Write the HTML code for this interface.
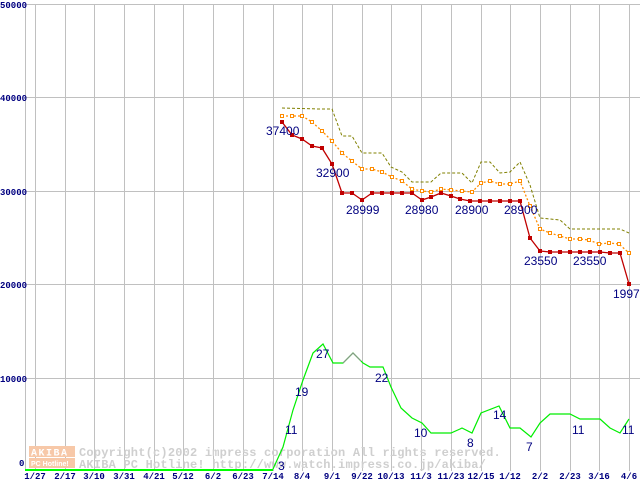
<!DOCTYPE html>
<html><head><meta charset="utf-8"><style>
html,body{margin:0;padding:0;background:#fff;}
svg{display:block;}
.yl{font:bold 9px "Liberation Mono",monospace;fill:#000080;}
.xl{font:bold 9px "Liberation Mono",monospace;fill:#000080;}
.dl{font:12px "Liberation Sans",sans-serif;fill:#000080;}
.wm{font:bold 12px "Liberation Mono",monospace;fill:#cfcfcf;letter-spacing:0.2px;}
</style></head><body>
<svg width="640" height="480" viewBox="0 0 640 480" xmlns="http://www.w3.org/2000/svg">
<rect width="640" height="480" fill="#fff"/>
<g stroke="#c0c0c0" stroke-width="1">
<line x1="25" y1="4.5" x2="640" y2="4.5"/>
<line x1="25" y1="97.5" x2="640" y2="97.5"/>
<line x1="25" y1="191.5" x2="640" y2="191.5"/>
<line x1="25" y1="284.5" x2="640" y2="284.5"/>
<line x1="25" y1="378.5" x2="640" y2="378.5"/>
<line x1="25.5" y1="4" x2="25.5" y2="471"/>
<line x1="35.5" y1="4" x2="35.5" y2="471"/><line x1="65.5" y1="4" x2="65.5" y2="471"/><line x1="94.5" y1="4" x2="94.5" y2="471"/><line x1="124.5" y1="4" x2="124.5" y2="471"/><line x1="154.5" y1="4" x2="154.5" y2="471"/><line x1="183.5" y1="4" x2="183.5" y2="471"/><line x1="213.5" y1="4" x2="213.5" y2="471"/><line x1="243.5" y1="4" x2="243.5" y2="471"/><line x1="273.5" y1="4" x2="273.5" y2="471"/><line x1="302.5" y1="4" x2="302.5" y2="471"/><line x1="332.5" y1="4" x2="332.5" y2="471"/><line x1="362.5" y1="4" x2="362.5" y2="471"/><line x1="391.5" y1="4" x2="391.5" y2="471"/><line x1="421.5" y1="4" x2="421.5" y2="471"/><line x1="451.5" y1="4" x2="451.5" y2="471"/><line x1="481.5" y1="4" x2="481.5" y2="471"/><line x1="510.5" y1="4" x2="510.5" y2="471"/><line x1="540.5" y1="4" x2="540.5" y2="471"/><line x1="570.5" y1="4" x2="570.5" y2="471"/><line x1="599.5" y1="4" x2="599.5" y2="471"/><line x1="629.5" y1="4" x2="629.5" y2="471"/>
</g>
<g class="yl">
<text x="0" y="8">50000</text><text x="0" y="101">40000</text><text x="0" y="195">30000</text><text x="0" y="288">20000</text><text x="0" y="382">10000</text><text x="19" y="466">0</text>
</g>
<g class="xl" text-anchor="middle">
<text x="35" y="479">1/27</text><text x="65" y="479">2/17</text><text x="94" y="479">3/10</text><text x="124" y="479">3/31</text><text x="154" y="479">4/21</text><text x="183" y="479">5/12</text><text x="213" y="479">6/2</text><text x="243" y="479">6/23</text><text x="273" y="479">7/14</text><text x="302" y="479">8/4</text><text x="332" y="479">9/1</text><text x="362" y="479">9/22</text><text x="391" y="479">10/13</text><text x="421" y="479">11/3</text><text x="451" y="479">11/23</text><text x="481" y="479">12/15</text><text x="510" y="479">1/12</text><text x="540" y="479">2/2</text><text x="570" y="479">2/23</text><text x="599" y="479">3/16</text><text x="629" y="479">4/6</text>
</g>
<!-- watermark -->
<rect x="29" y="446" width="46" height="11" fill="#f7c8a8"/>
<rect x="29" y="458" width="46" height="10" fill="#f7c8a8"/>
<text x="31" y="455.5" style="font:bold 10px 'Liberation Mono',monospace;fill:#fff;letter-spacing:1.5px">AKIBA</text>
<text x="31" y="466" style="font:bold 7px 'Liberation Sans',sans-serif;fill:#fff">PC Hotline!</text>
<text class="wm" x="79" y="456">Copyright(c)2002 impress corporation All rights reserved.</text>
<text class="wm" x="79" y="468">AKIBA PC Hotline!  http://www.watch.impress.co.jp/akiba/</text>
<!-- olive dashed -->
<polyline fill="none" stroke="#808000" stroke-width="1" stroke-dasharray="3,2" points="282,108 319,109 332,109 342,136 352,136 362,153 382,153 391,167 402,172 412,182 431,182 441,173 462,173 472,183 481,162 490,162 500,173 510,172 520,162 530,185 540,218 560,220 570,229 620,229 629,233"/>
<!-- orange dotted -->
<polyline fill="none" stroke="#ff8c00" stroke-width="1.3" stroke-dasharray="2,2" points="282,116 292,116 302,116 312,122 322,131 332,141 342,153 352,161 362,169 372,169 382,172 392,177 402,181 412,189 422,191 431,192 441,189 451,190 462,191 472,192 481,183 490,181 500,184 510,184 520,181 530,206 540,229 550,233 560,236 570,239 580,239 589,240 599,244 609,243 619,244 629,253"/>
<g fill="#fff" stroke="#ff8c00" stroke-width="1">
<rect x="280.5" y="114.5" width="3" height="3"/><rect x="290.5" y="114.5" width="3" height="3"/><rect x="300.5" y="114.5" width="3" height="3"/><rect x="310.5" y="120.5" width="3" height="3"/><rect x="320.5" y="129.5" width="3" height="3"/><rect x="330.5" y="139.5" width="3" height="3"/><rect x="340.5" y="151.5" width="3" height="3"/><rect x="350.5" y="159.5" width="3" height="3"/><rect x="360.5" y="167.5" width="3" height="3"/><rect x="370.5" y="167.5" width="3" height="3"/><rect x="380.5" y="170.5" width="3" height="3"/><rect x="390.5" y="175.5" width="3" height="3"/><rect x="400.5" y="179.5" width="3" height="3"/><rect x="410.5" y="187.5" width="3" height="3"/><rect x="420.5" y="189.5" width="3" height="3"/><rect x="429.5" y="190.5" width="3" height="3"/><rect x="439.5" y="187.5" width="3" height="3"/><rect x="449.5" y="188.5" width="3" height="3"/><rect x="460.5" y="189.5" width="3" height="3"/><rect x="470.5" y="190.5" width="3" height="3"/><rect x="479.5" y="181.5" width="3" height="3"/><rect x="488.5" y="179.5" width="3" height="3"/><rect x="498.5" y="182.5" width="3" height="3"/><rect x="508.5" y="182.5" width="3" height="3"/><rect x="518.5" y="179.5" width="3" height="3"/><rect x="528.5" y="204.5" width="3" height="3"/><rect x="538.5" y="227.5" width="3" height="3"/><rect x="548.5" y="231.5" width="3" height="3"/><rect x="558.5" y="234.5" width="3" height="3"/><rect x="568.5" y="237.5" width="3" height="3"/><rect x="578.5" y="237.5" width="3" height="3"/><rect x="587.5" y="238.5" width="3" height="3"/><rect x="597.5" y="242.5" width="3" height="3"/><rect x="607.5" y="241.5" width="3" height="3"/><rect x="617.5" y="242.5" width="3" height="3"/><rect x="627.5" y="251.5" width="3" height="3"/>
</g>
<!-- red -->
<polyline fill="none" stroke="#c00000" stroke-width="1.3" points="282,122 292,135 302,139 312,146 322,148 332,164 342,193 352,193 362,200 372,193 382,193 392,193 402,193 412,193 422,200 431,197 441,193 451,196 460,199 470,201 480,201 490,201 500,201 510,201 520,201 530,238 540,251 550,252 560,252 570,252 580,252 590,252 600,252 610,253 620,253 629,284"/>
<g fill="#c00000">
<rect x="280" y="120" width="4" height="4"/><rect x="290" y="133" width="4" height="4"/><rect x="300" y="137" width="4" height="4"/><rect x="310" y="144" width="4" height="4"/><rect x="320" y="146" width="4" height="4"/><rect x="330" y="162" width="4" height="4"/><rect x="340" y="191" width="4" height="4"/><rect x="350" y="191" width="4" height="4"/><rect x="360" y="198" width="4" height="4"/><rect x="370" y="191" width="4" height="4"/><rect x="380" y="191" width="4" height="4"/><rect x="390" y="191" width="4" height="4"/><rect x="400" y="191" width="4" height="4"/><rect x="410" y="191" width="4" height="4"/><rect x="420" y="198" width="4" height="4"/><rect x="429" y="195" width="4" height="4"/><rect x="439" y="191" width="4" height="4"/><rect x="449" y="194" width="4" height="4"/><rect x="458" y="197" width="4" height="4"/><rect x="468" y="199" width="4" height="4"/><rect x="478" y="199" width="4" height="4"/><rect x="488" y="199" width="4" height="4"/><rect x="498" y="199" width="4" height="4"/><rect x="508" y="199" width="4" height="4"/><rect x="518" y="199" width="4" height="4"/><rect x="528" y="236" width="4" height="4"/><rect x="538" y="249" width="4" height="4"/><rect x="548" y="250" width="4" height="4"/><rect x="558" y="250" width="4" height="4"/><rect x="568" y="250" width="4" height="4"/><rect x="578" y="250" width="4" height="4"/><rect x="588" y="250" width="4" height="4"/><rect x="598" y="250" width="4" height="4"/><rect x="608" y="251" width="4" height="4"/><rect x="618" y="251" width="4" height="4"/><rect x="627" y="282" width="4" height="4"/>
</g>
<!-- green -->
<line x1="25" y1="470" x2="273" y2="470" stroke="#00ff00" stroke-width="2"/>
<polyline fill="none" stroke="#00ee00" stroke-width="1.2" points="273,469 283,447 293,410 303,380 313,353 323,344 333,363 343,363 353,353 363,363 370,367 383,367 391,387 401,408 412,418 422,423 431,433 451,433 460,429 462,428 472,433 481,413 499,406 510,428 520,428 531,437 540,423 550,414 570,414 580,419 600,419 610,428 620,433 629,419"/>
<polyline fill="none" stroke="#909090" stroke-width="1" points="343,363 353,353 361,361"/>
<g class="dl">
<text x="266" y="135">37400</text><text x="316" y="177">32900</text><text x="346" y="214">28999</text><text x="405" y="214">28980</text><text x="455" y="214">28900</text><text x="504" y="214">28900</text><text x="524" y="265">23550</text><text x="573" y="265">23550</text><text x="613" y="298">19979</text>
<text x="285" y="434">11</text><text x="295" y="396">19</text><text x="316" y="358">27</text><text x="375" y="382">22</text><text x="414" y="437">10</text><text x="467" y="447">8</text><text x="493" y="419">14</text><text x="526" y="451">7</text><text x="572" y="434">11</text><text x="622" y="434">11</text><text x="278" y="470">3</text>
</g>
</svg>
</body></html>
